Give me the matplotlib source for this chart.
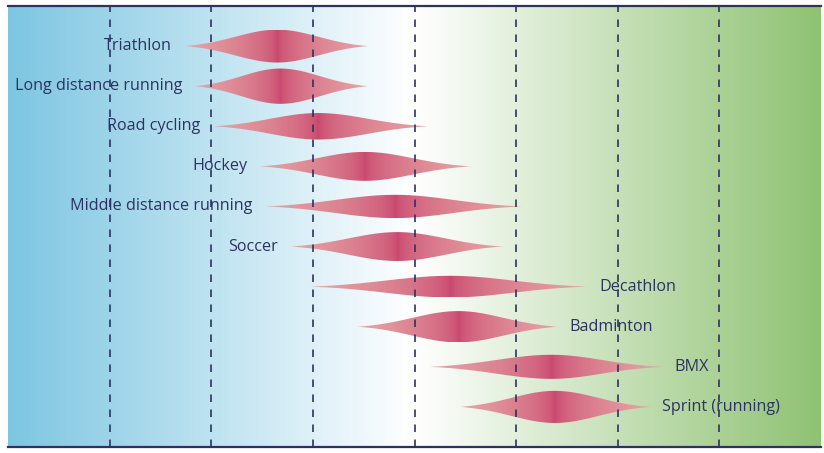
import numpy as np
import matplotlib
matplotlib.use('Agg')
import matplotlib.pyplot as plt
from matplotlib.patches import Polygon

# sport order, top to bottom
sports = ['Triathlon', 'Long distance running', 'Road cycling', 'Hockey',
          'Middle distance running', 'Soccer', 'Decathlon', 'Badminton',
          'BMX', 'Sprint (running)']
# left tip, peak, right tip of each violin (x scale 0..8)
left_tip = [1.74, 1.84, 2.02, 2.48, 2.53, 2.78, 2.97, 3.44, 4.15, 4.45]
peak = [2.65, 2.68, 3.05, 3.51, 3.81, 3.83, 4.35, 4.43, 5.35, 5.38]
right_tip = [3.54, 3.54, 4.13, 4.55, 5.06, 4.87, 5.70, 5.41, 6.44, 6.32]
# half height of each violin (in row units)
half_height = [0.41, 0.44, 0.33, 0.36, 0.29, 0.36, 0.27, 0.39, 0.30, 0.40]
label_side = ['left'] * 6 + ['right'] * 4
grid_x = [1, 2, 3, 4, 5, 6, 7]

NAVY = '#2e3262'
BLUE = np.array([125, 198, 226]) / 255
GREEN = np.array([143, 194, 115]) / 255
DARK = np.array([201, 69, 109]) / 255
LIGHT = np.array([230, 165, 165]) / 255


def violin_profile(xs, l, p, r, c=2.2):
    # gaussian-like bulge that runs out to zero at both tips
    t = np.where(xs < p, (xs - p) / (p - l), (xs - p) / (r - p)) * c
    base = np.exp(-c ** 2 / 2)
    return np.clip((np.exp(-t ** 2 / 2) - base) / (1 - base), 0, None)


fig = plt.figure(figsize=(8.24, 4.53), dpi=100)
ax = fig.add_axes([8 / 824, 6 / 453, 813 / 824, 441 / 453])

# background gradient blue -> white -> green
bx = np.linspace(0, 8, 400)
bg = np.ones((1, len(bx), 3))
for i, v in enumerate(bx):
    if v < 4:
        f = v / 4
        bg[0, i] = BLUE * (1 - f) + f
    else:
        f = (v - 4) / 4
        bg[0, i] = (1 - f) + GREEN * f
ax.imshow(bg, extent=[0, 8, 11, 0], aspect='auto', zorder=0)

for i, name in enumerate(sports):
    y = i + 1
    l, p, r, h = left_tip[i], peak[i], right_tip[i], half_height[i]
    xs = np.linspace(l, r, 300)
    w = h * violin_profile(xs, l, p, r)
    verts = np.concatenate([np.column_stack([xs, y - w]),
                            np.column_stack([xs[::-1], y + w[::-1]])])
    poly = Polygon(verts, closed=True, facecolor='none', edgecolor='none')
    ax.add_patch(poly)

    gx = np.linspace(l, r, 300)
    d = np.where(gx < p, (p - gx) / (p - l), (gx - p) / (r - p))
    d = d ** 0.55
    img = np.ones((1, len(gx), 3))
    for j in range(len(gx)):
        img[0, j] = DARK * (1 - d[j]) + LIGHT * d[j]
    im = ax.imshow(img, extent=[l, r, y + h, y - h], aspect='auto', zorder=2)
    im.set_clip_path(poly)

    if label_side[i] == 'left':
        ax.annotate(name, (l, y), xytext=(-13, 0), textcoords='offset pixels',
                    ha='right', va='center', fontsize=11.6, color=NAVY,
                    family='Open Sans', zorder=3)
    else:
        ax.annotate(name, (r, y), xytext=(12, 0), textcoords='offset pixels',
                    ha='left', va='center', fontsize=11.6, color=NAVY,
                    family='Open Sans', zorder=3)

for gx_ in grid_x:
    ax.axvline(gx_, color=NAVY, lw=1.2, dashes=(4.5, 4.5), zorder=4)

ax.set_xlim(0, 8)
ax.set_ylim(11, 0)
ax.set_xticks([])
ax.set_yticks([])
for side in ['left', 'right']:
    ax.spines[side].set_visible(False)
for side in ['top', 'bottom']:
    ax.spines[side].set_color(NAVY)
    ax.spines[side].set_linewidth(1.6)

plt.savefig('out.png', dpi=100)
